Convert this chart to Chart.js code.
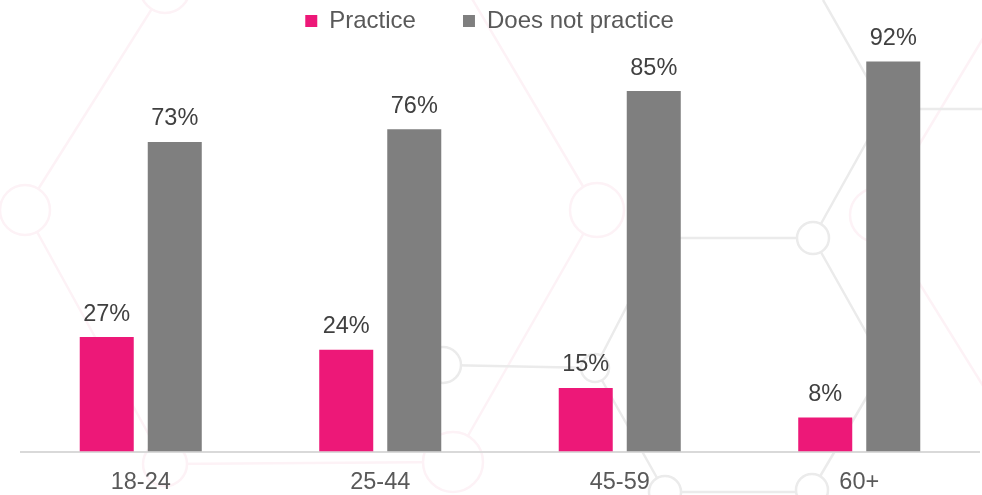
<!DOCTYPE html>
<html>
<head>
<meta charset="utf-8">
<script src="https://cdn.jsdelivr.net/npm/chart.js@4/dist/chart.umd.min.js"></script>
<style>
    html, body { margin: 0; padding: 0; background: #fff; }
    #wrap { width: 982px; height: 495px; position: relative; }
</style>
</head>
<body>
<div id="wrap"><canvas id="practiceChart"></canvas></div>
<script>
// --- data ---
var ageGroups = ['18-24', '25-44', '45-59', '60+'];
var practiceValues = [27, 24, 15, 8];
var notPracticeValues = [73, 76, 85, 92];
var seriesNames = ['Practice', 'Does not practice'];

var pinkColor = '#ED1878';
var grayColor = '#7F7F7F';
var fontFamily = '"Liberation Sans", Arial, sans-serif';

// faint network pattern behind the chart (decoration only)
var grayLinks = [
    [443, 365, 595, 368], [595, 368, 662, 238], [662, 238, 813, 238],
    [813, 238, 885, 109], [885, 109, 823, 0], [885, 109, 982, 109],
    [813, 238, 885, 366], [885, 366, 812, 490], [595, 368, 665, 492],
    [665, 492, 812, 492]
];
var grayNodes = [[443, 365, 18], [595, 368, 14], [813, 238, 16], [812, 490, 16], [665, 492, 16]];
var pinkLinks = [
    [25, 210, 165, -12], [25, 210, 165, 464], [165, 464, 453, 462],
    [453, 462, 597, 210], [597, 210, 455, -30], [877, 215, 1000, 10],
    [877, 215, 1000, 413]
];
var pinkNodes = [[25, 210, 25], [165, 464, 22], [453, 462, 30], [597, 210, 27], [877, 215, 27], [165, -12, 25]];

var backdropPlugin = {
    id: 'backdrop',
    beforeDraw: function (chart) {
        var ctx = chart.ctx;
        ctx.save();
        ctx.lineWidth = 2.5;
        function drawNet(links, nodes, color) {
            ctx.strokeStyle = color;
            links.forEach(function (l) {
                ctx.beginPath();
                ctx.moveTo(l[0], l[1]);
                ctx.lineTo(l[2], l[3]);
                ctx.stroke();
            });
            nodes.forEach(function (n) {
                ctx.beginPath();
                ctx.arc(n[0], n[1], n[2], 0, Math.PI * 2);
                ctx.fillStyle = '#fff';
                ctx.fill();
                ctx.stroke();
            });
        }
        drawNet(pinkLinks, pinkNodes, '#fdf2f6');
        drawNet(grayLinks, grayNodes, '#ebebeb');
        ctx.restore();
    }
};

// value labels above every bar
var valueLabelPlugin = {
    id: 'valueLabels',
    afterDatasetsDraw: function (chart) {
        var ctx = chart.ctx;
        ctx.save();
        ctx.font = '23.5px ' + fontFamily;
        ctx.fillStyle = '#404040';
        ctx.textAlign = 'center';
        ctx.textBaseline = 'alphabetic';
        chart.data.datasets.forEach(function (ds, i) {
            var meta = chart.getDatasetMeta(i);
            meta.data.forEach(function (bar, j) {
                ctx.fillText(ds.data[j] + '%', bar.x, bar.y - 16.5);
            });
        });
        ctx.restore();
    }
};

var ctx = document.getElementById('practiceChart');
new Chart(ctx, {
    type: 'bar',
    data: {
        labels: ageGroups,
        datasets: [{
            label: seriesNames[0],
            data: practiceValues,
            backgroundColor: pinkColor,
            borderWidth: 0
        }, {
            label: seriesNames[1],
            data: notPracticeValues,
            backgroundColor: grayColor,
            borderWidth: 0
        }]
    },
    options: {
        responsive: true, maintainAspectRatio: false, animation: false,
        categoryPercentage: 0.568,
        barPercentage: 0.794,
        layout: { padding: { left: 0, right: 3, top: 2, bottom: 0 } },
        scales: {
            x: {
                grid: { display: false, drawTicks: false },
                border: { display: true, color: '#d9d9d9', width: 2 },
                ticks: {
                    color: '#595959',
                    padding: 16.7,
                    font: { family: fontFamily, size: 23.5 }
                },
                afterFit: function (scale) { scale.height = 43.5; }
            },
            y: {
                min: 0, max: 96.34,
                grid: { display: false, drawTicks: false },
                border: { display: false },
                ticks: { display: false },
                afterFit: function (scale) { scale.width = 21; }
            }
        },
        plugins: {
            legend: {
                position: 'top',
                labels: {
                    boxWidth: 12, boxHeight: 12, padding: 7,
                    color: '#595959',
                    font: { family: fontFamily, size: 24 },
                    generateLabels: function (chart) {
                        var items = Chart.defaults.plugins.legend.labels.generateLabels(chart);
                        // extra room after the first entry, like the original spacing
                        items[0].text = items[0].text + '      ';
                        return items;
                    }
                }
            },
            tooltip: { enabled: false }
        }
    },
    plugins: [backdropPlugin, valueLabelPlugin]
});
</script>
</body>
</html>
